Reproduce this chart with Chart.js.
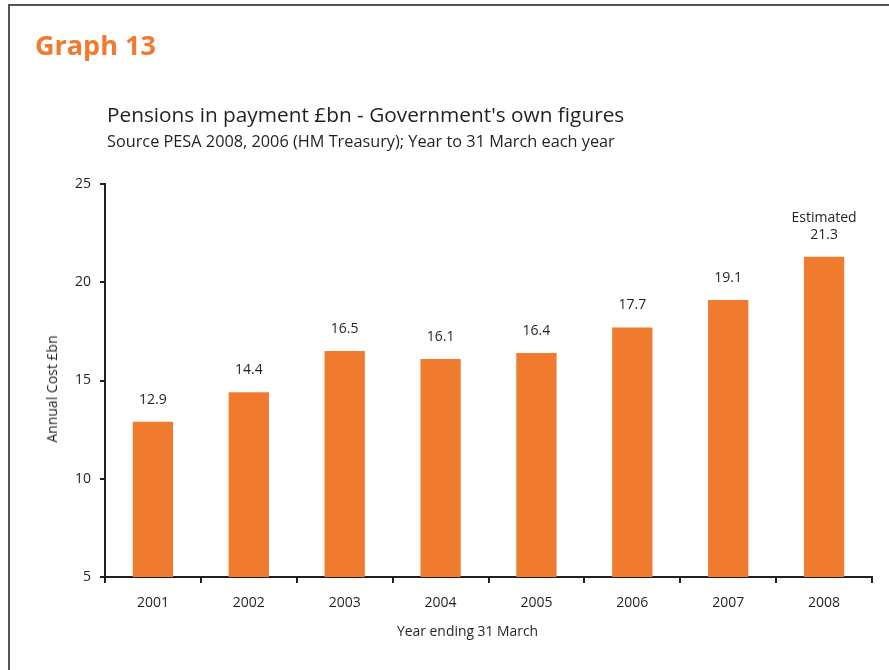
<!DOCTYPE html>
<html>
<head>
<meta charset="utf-8">
<script src="https://cdn.jsdelivr.net/npm/chart.js@4"></script>
<style>
  html, body { margin: 0; padding: 0; background: #fff; }
  #page { position: relative; width: 889px; height: 670px; overflow: hidden; font-family: "Open Sans", Lato, sans-serif; color: #231f20; }
  #frame { position: absolute; left: 8px; top: 4px; width: 1000px; height: 1000px; border-left: 2px solid #555; border-top: 2px solid #555; }
  #chart { position: absolute; left: 0; top: 0; }
  .txt { position: absolute; white-space: nowrap; line-height: 1; }
  #graph { left: 35px; top: 31px; font-size: 27px; font-weight: bold; color: #f07a2e; }
  #title { left: 107px; top: 104px; font-size: 20.8px; }
  #sub { left: 107px; top: 133px; font-size: 16.3px; }
  #xtitle { left: 397px; top: 624px; font-size: 13.9px; }
  #ytitle { left: 52px; top: 389px; font-size: 14px; transform: translate(-50%, -50%) rotate(-90deg); }
</style>
</head>
<body>
<div id="page">
  <div id="frame"></div>
  <canvas id="chart" width="889" height="670"></canvas>
  <div class="txt" id="graph">Graph 13</div>
  <div class="txt" id="title">Pensions in payment £bn - Government's own figures</div>
  <div class="txt" id="sub">Source PESA 2008, 2006 (HM Treasury); Year to 31 March each year</div>
  <div class="txt" id="xtitle">Year ending 31 March</div>
  <div class="txt" id="ytitle">Annual Cost £bn</div>
</div>
<script>
// Pension spending by financial year (£bn)
const years = ['2001', '2002', '2003', '2004', '2005', '2006', '2007', '2008'];
const costs = [12.9, 14.4, 16.5, 16.1, 16.4, 17.7, 19.1, 21.3];
// Extra caption printed above a bar's value
const notes = ['', '', '', '', '', '', '', 'Estimated'];
const yTicks = [5, 10, 15, 20, 25];

const ORANGE = '#f07a2e';
const INK = '#231f20';
const FONT = '"Open Sans", Lato, sans-serif';

// Writes each bar's value (and any note) just above the bar
const valueLabels = {
  id: 'valueLabels',
  afterDatasetsDraw(chart) {
    const ctx = chart.ctx;
    const meta = chart.getDatasetMeta(0);
    ctx.save();
    ctx.fillStyle = INK;
    ctx.font = '14px ' + FONT;
    ctx.textAlign = 'center';
    ctx.textBaseline = 'middle';
    meta.data.forEach((bar, i) => {
      const y = bar.y - 22;
      ctx.fillText(costs[i].toFixed(1), bar.x, y);
      if (notes[i]) ctx.fillText(notes[i], bar.x, y - 17);
    });
    ctx.restore();
  }
};

new Chart(document.getElementById('chart'), {
  type: 'bar',
  data: {
    labels: years,
    datasets: [{
      data: costs,
      backgroundColor: ORANGE,
      borderWidth: 0,
      barPercentage: 0.42,
      categoryPercentage: 1.0
    }]
  },
  options: {
    responsive: false,
    animation: false,
    devicePixelRatio: 1,
    layout: { padding: { left: 0, right: 17, top: 184, bottom: 0 } },
    plugins: { legend: { display: false }, tooltip: { enabled: false } },
    scales: {
      x: {
        grid: { drawOnChartArea: false, drawTicks: true, tickLength: 6, color: INK, lineWidth: 2, offset: true },
        border: { display: true, color: INK, width: 2 },
        ticks: { color: INK, font: { family: FONT, size: 14 }, padding: 12 },
        afterFit(scale) { scale.height = 93; }
      },
      y: {
        min: 5,
        max: 25,
        afterBuildTicks(scale) { scale.ticks = yTicks.map(v => ({ value: v })); },
        grid: { drawOnChartArea: false, drawTicks: true, tickLength: 5, color: INK, lineWidth: 2 },
        border: { display: true, color: INK, width: 2 },
        ticks: { color: INK, font: { family: FONT, size: 14 }, padding: 9 },
        afterFit(scale) { scale.width = 105; }
      }
    }
  },
  plugins: [valueLabels]
});
</script>
</body>
</html>
